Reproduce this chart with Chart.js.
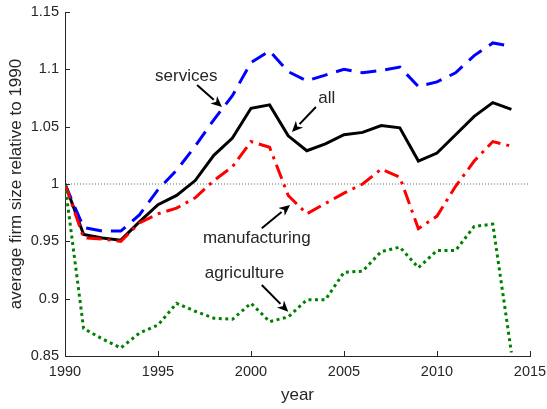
<!DOCTYPE html>
<html>
<head>
<meta charset="utf-8">
<script src="https://cdn.jsdelivr.net/npm/chart.js@4/dist/chart.umd.min.js"></script>
<style>
  html, body { margin: 0; padding: 0; background: #fff; }
  canvas { display: block; }
</style>
</head>
<body>
<canvas id="firmChart" width="547" height="409"></canvas>
<script>
// years 1990..2014, values are firm size relative to 1990
const years = [1990, 1991, 1992, 1993, 1994, 1995, 1996, 1997, 1998, 1999, 2000, 2001, 2002,
               2003, 2004, 2005, 2006, 2007, 2008, 2009, 2010, 2011, 2012, 2013, 2014];

const allFirms = [1.000, 0.956, 0.953, 0.951, 0.967, 0.982, 0.990, 1.003, 1.025, 1.040, 1.066, 1.069, 1.042,
                  1.029, 1.035, 1.043, 1.045, 1.051, 1.049, 1.020, 1.027, 1.043, 1.059, 1.071, 1.065];
const services = [1.000, 0.962, 0.959, 0.959, 0.973, 0.995, 1.012, 1.033, 1.056, 1.077, 1.106, 1.116, 1.098,
                  1.090, 1.095, 1.100, 1.097, 1.099, 1.102, 1.085, 1.089, 1.097, 1.112, 1.123, 1.120];
const manufacturing = [1.000, 0.953, 0.952, 0.950, 0.966, 0.974, 0.979, 0.988, 1.003, 1.015, 1.037, 1.032, 0.990,
                       0.974, 0.983, 0.992, 1.000, 1.013, 1.006, 0.961, 0.972, 0.998, 1.020, 1.037, 1.033];
const agriculture = [1.000, 0.874, 0.865, 0.857, 0.870, 0.877, 0.896, 0.889, 0.883, 0.882, 0.896, 0.880, 0.884,
                     0.899, 0.899, 0.923, 0.924, 0.941, 0.945, 0.927, 0.942, 0.942, 0.963, 0.965, 0.853];

// reference line at 1
const refYears = [1990, 2015];
const refValues = [1, 1];

// axis ticks
const xTicks = [1990, 1995, 2000, 2005, 2010, 2015];
const yTicks = [0.85, 0.9, 0.95, 1, 1.05, 1.1, 1.15];

// text labels with arrows, in data units
const labelTexts = ['services', 'all', 'manufacturing', 'agriculture'];
const labelAt   = [[1996.52, 1.0894], [2004.07, 1.0704], [2000.31, 0.9483], [1999.65, 0.9178]];
const arrowFrom = [[1997.10, 1.0863], [2003.49, 1.0671], [2000.58, 0.9614], [2000.58, 0.9119]];
const arrowTo   = [[1998.44, 1.0672], [2002.20, 1.0453], [2002.10, 0.9817], [2002.00, 0.8886]];

const axisColor = '#262626';
const fontFamily = '"Liberation Sans", Arial, Helvetica, sans-serif';

const pts = (xs, ys) => xs.map((x, i) => ({ x: x, y: ys[i] }));

// MATLAB-style inward ticks plus the arrow annotations
const extras = {
    id: 'extras',
    afterDraw(chart) {
        const ctx = chart.ctx;
        const xs = chart.scales.x, ys = chart.scales.y;
        ctx.save();
        ctx.strokeStyle = axisColor;
        ctx.lineWidth = 1;
        ctx.beginPath();
        xTicks.forEach(v => {
            const px = Math.round(xs.getPixelForValue(v)) + 0.5;
            ctx.moveTo(px, ys.bottom);
            ctx.lineTo(px, ys.bottom - 5);
        });
        yTicks.forEach(v => {
            const py = Math.round(ys.getPixelForValue(v)) + 0.5;
            ctx.moveTo(xs.left, py);
            ctx.lineTo(xs.left + 5, py);
        });
        ctx.stroke();

        ctx.fillStyle = axisColor;
        ctx.font = '17px ' + fontFamily;
        ctx.textAlign = 'center';
        ctx.textBaseline = 'alphabetic';
        labelTexts.forEach((t, i) => {
            ctx.fillText(t, xs.getPixelForValue(labelAt[i][0]), ys.getPixelForValue(labelAt[i][1]));
        });

        ctx.strokeStyle = '#000';
        ctx.fillStyle = '#000';
        ctx.lineWidth = 2;
        arrowFrom.forEach((a, i) => {
            const x0 = xs.getPixelForValue(a[0]), y0 = ys.getPixelForValue(a[1]);
            const x1 = xs.getPixelForValue(arrowTo[i][0]), y1 = ys.getPixelForValue(arrowTo[i][1]);
            const ang = Math.atan2(y1 - y0, x1 - x0);
            const len = 11, half = 5;
            const bx = x1 - len * Math.cos(ang), by = y1 - len * Math.sin(ang);
            ctx.beginPath();
            ctx.moveTo(x0, y0);
            ctx.lineTo(bx, by);
            ctx.stroke();
            ctx.beginPath();
            ctx.moveTo(x1, y1);
            ctx.lineTo(bx + half * Math.sin(ang), by - half * Math.cos(ang));
            ctx.lineTo(x1 - 0.7 * len * Math.cos(ang), y1 - 0.7 * len * Math.sin(ang));
            ctx.lineTo(bx - half * Math.sin(ang), by + half * Math.cos(ang));
            ctx.closePath();
            ctx.fill();
        });
        ctx.restore();
    }
};

const lineStyle = { borderWidth: 3, pointRadius: 0, tension: 0, fill: false, borderCapStyle: 'butt' };

new Chart(document.getElementById('firmChart'), {
    type: 'line',
    data: {
        datasets: [
            { ...lineStyle, label: 'reference', data: pts(refYears, refValues), borderColor: '#444',
              borderWidth: 0.8, borderDash: [1, 2], order: 5 },
            { ...lineStyle, label: 'all', data: pts(years, allFirms), borderColor: '#000000', order: 4 },
            { ...lineStyle, label: 'services', data: pts(years, services), borderColor: '#0000ff',
              borderDash: [16, 9], order: 3 },
            { ...lineStyle, label: 'manufacturing', data: pts(years, manufacturing), borderColor: '#ff0000',
              borderDash: [15, 6, 3, 6], order: 2 },
            { ...lineStyle, label: 'agriculture', data: pts(years, agriculture), borderColor: '#008000',
              borderDash: [3, 3.5], order: 1 }
        ]
    },
    options: {
        responsive: false,
        animation: false,
        layout: { padding: { top: 12, right: 17, left: 0, bottom: 0 } },
        plugins: { legend: { display: false }, tooltip: { enabled: false } },
        scales: {
            x: {
                type: 'linear',
                min: 1990,
                max: 2015,
                afterFit(scale) {
                    scale.height = 53;
                    scale.paddingLeft = 0;
                    scale.paddingRight = 0;
                },
                afterBuildTicks(scale) { scale.ticks = xTicks.map(v => ({ value: v })); },
                grid: { display: false, drawTicks: false },
                border: { display: true, color: axisColor, width: 1 },
                ticks: {
                    color: axisColor,
                    padding: 7,
                    maxRotation: 0,
                    font: { family: fontFamily, size: 14.5 },
                    callback: v => String(v)
                },
                title: {
                    display: true,
                    text: 'year',
                    color: axisColor,
                    font: { family: fontFamily, size: 17 },
                    padding: { top: 0, bottom: 3 }
                }
            },
            y: {
                min: 0.85,
                max: 1.15,
                afterFit(scale) {
                    scale.width = 65;
                    scale.paddingTop = 0;
                    scale.paddingBottom = 0;
                },
                afterBuildTicks(scale) { scale.ticks = yTicks.map(v => ({ value: v })); },
                grid: { display: false, drawTicks: false },
                border: { display: true, color: axisColor, width: 1 },
                ticks: {
                    color: axisColor,
                    padding: 6,
                    font: { family: fontFamily, size: 14.5 },
                    callback: v => String(parseFloat(Number(v).toFixed(2)))
                },
                title: {
                    display: true,
                    text: 'average firm size relative to 1990',
                    color: axisColor,
                    font: { family: fontFamily, size: 17 },
                    padding: { top: 6, bottom: 0 }
                }
            }
        }
    },
    plugins: [extras]
});
</script>
</body>
</html>
